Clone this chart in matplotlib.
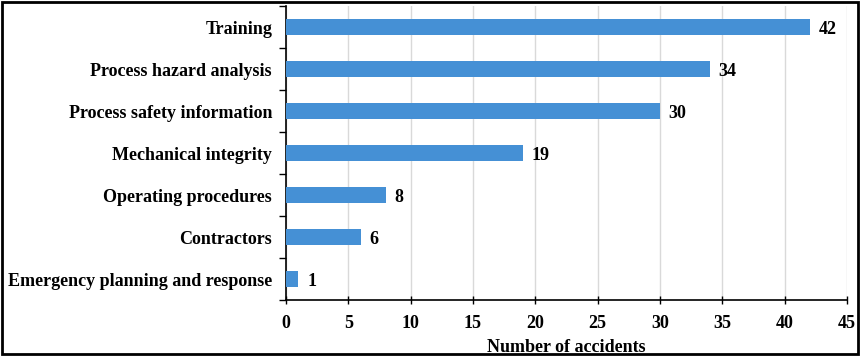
import matplotlib.pyplot as plt
import matplotlib.patches as patches
import numpy as np

categories = ['Training', 'Process hazard analysis', 'Process safety information',
              'Mechanical integrity', 'Operating procedures', 'Contractors',
              'Emergency planning and response']
accidents = [42, 34, 30, 19, 8, 6, 1]
xticks = [0, 5, 10, 15, 20, 25, 30, 35, 40, 45]

plt.rcParams['font.family'] = ['Liberation Serif', 'DejaVu Serif']
plt.rcParams['font.weight'] = 'bold'

fig = plt.figure(figsize=(8.62, 3.6), dpi=100)
ax = fig.add_axes([286/862, 60/360, 561/862, 294/360])

y = np.arange(len(categories))[::-1]
ax.barh(y, accidents, height=0.38, color='#4590D5', zorder=3)
for yi, v in zip(y, accidents):
    ax.text(v + 0.7, yi, str(v), va='center_baseline', ha='left', fontsize=13, fontweight='bold')

ax.set_xlim(0, 45)
ax.set_ylim(-0.5, 6.5)
ax.set_xticks(xticks)
ax.set_xticklabels([str(t) for t in xticks], fontsize=13, fontweight='bold')
ax.set_yticks(y)
ax.set_yticklabels(categories, fontsize=13, fontweight='bold')
ax.set_yticks(np.arange(-0.5, 7, 1), minor=True)
ax.tick_params(axis='y', which='major', length=0, pad=10)
ax.tick_params(axis='y', which='minor', length=5, direction='out', width=1)
ax.tick_params(axis='x', length=6, direction='inout', width=1, pad=8)
ax.xaxis.grid(True, color='#d9d9d9', linewidth=1, zorder=0)
ax.set_xlabel('Number of accidents', fontsize=13, fontweight='bold', labelpad=5)

for s in ['top', 'right']:
    ax.spines[s].set_visible(False)
for s in ['left', 'bottom']:
    ax.spines[s].set_linewidth(1.2)

fig.patches.append(patches.Rectangle((2/862, 6/360), 856/862, 352/360, transform=fig.transFigure,
                                     fill=False, edgecolor='black', linewidth=2))

fig.savefig('out.png', dpi=100)
